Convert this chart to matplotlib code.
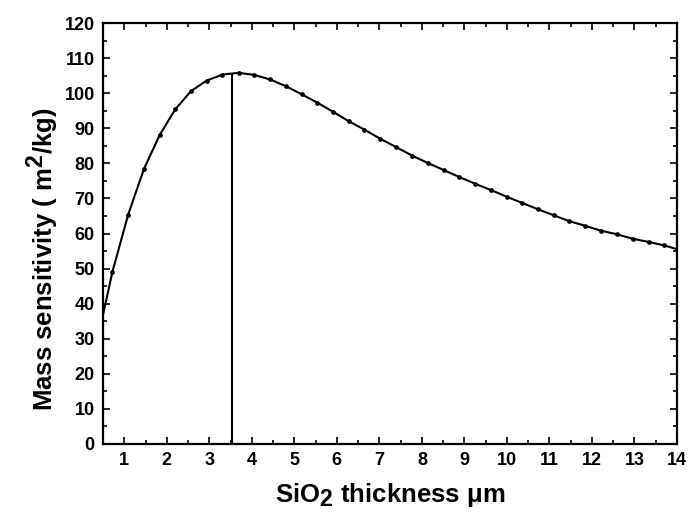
import matplotlib
matplotlib.use("Agg")
import matplotlib.pyplot as plt
from matplotlib.ticker import MultipleLocator
try:
    import matplotlib._mathtext as _mt
    _mt.SHRINK_FACTOR = 0.9
except Exception:
    pass

# ---- data ----
thickness = [0.35, 0.72, 1.09, 1.46, 1.83, 2.20, 2.57, 2.94, 3.31, 3.69,
             4.06, 4.43, 4.80, 5.17, 5.54, 5.91, 6.28, 6.65, 7.02, 7.40,
             7.77, 8.14, 8.51, 8.88, 9.25, 9.62, 9.99, 10.36, 10.73, 11.10,
             11.47, 11.84, 12.21, 12.58, 12.96, 13.33, 13.70, 14.07]
sensitivity = [28.5, 49.0, 65.3, 78.3, 88.0, 95.4, 100.6, 103.6, 105.3, 105.8,
               105.2, 103.9, 102.0, 99.7, 97.3, 94.7, 92.0, 89.6, 87.0, 84.6,
               82.2, 80.1, 78.1, 76.1, 74.2, 72.4, 70.5, 68.7, 66.9, 65.2,
               63.5, 62.2, 60.8, 59.8, 58.5, 57.6, 56.6, 55.3]
peak_x = 3.53
peak_y = 105.6
x_ticks = list(range(1, 15))
y_ticks = list(range(0, 121, 10))

plt.rcParams['font.family'] = ['Liberation Sans', 'DejaVu Sans']
plt.rcParams['font.weight'] = 'bold'
plt.rcParams['mathtext.fontset'] = 'custom'
plt.rcParams['mathtext.rm'] = 'Liberation Sans:bold'
plt.rcParams['mathtext.it'] = 'Liberation Sans:bold'
plt.rcParams['mathtext.bf'] = 'Liberation Sans:bold'
plt.rcParams['mathtext.sf'] = 'Liberation Sans'

fig = plt.figure(figsize=(6.88, 5.15), dpi=100)
ax = fig.add_axes([103/688, 1-444/515, 574/688, 421/515])

ax.plot(thickness, sensitivity, color='black', lw=1.5, marker='o',
        markersize=2.4, markerfacecolor='black', markeredgecolor='black',
        clip_on=True)
ax.vlines(peak_x, 0, peak_y, color='black', lw=1.5)

ax.set_xlim(0.5, 14)
ax.set_ylim(0, 120)
ax.set_xticks(x_ticks)
ax.set_yticks(y_ticks)
ax.xaxis.set_minor_locator(MultipleLocator(0.5))
ax.yaxis.set_minor_locator(MultipleLocator(5))

for s in ax.spines.values():
    s.set_linewidth(1.6)
ax.tick_params(which='both', direction='in', top=True, right=True,
               labeltop=False, labelright=False)
ax.tick_params(which='major', length=5, width=1.2, labelsize=13)
ax.tick_params(which='minor', length=3, width=1.2)
ax.tick_params(axis='x', which='major', pad=6)
ax.tick_params(axis='y', which='major', pad=6)
for lab in ax.get_xticklabels() + ax.get_yticklabels():
    lab.set_fontweight('bold')

ax.set_xlabel(r"SiO$_{2}$ thickness μm", fontsize=18.5, fontweight='bold')
ax.xaxis.set_label_coords(0.5, -0.088)
ax.set_ylabel(r"Mass sensitivity $\mathsf{(}$ m$^{2}$/kg$\mathsf{)}$",
              fontsize=18.5, fontweight='bold')
ax.yaxis.set_label_coords(-0.073, 0.44)

fig.savefig("out.png", dpi=100)
